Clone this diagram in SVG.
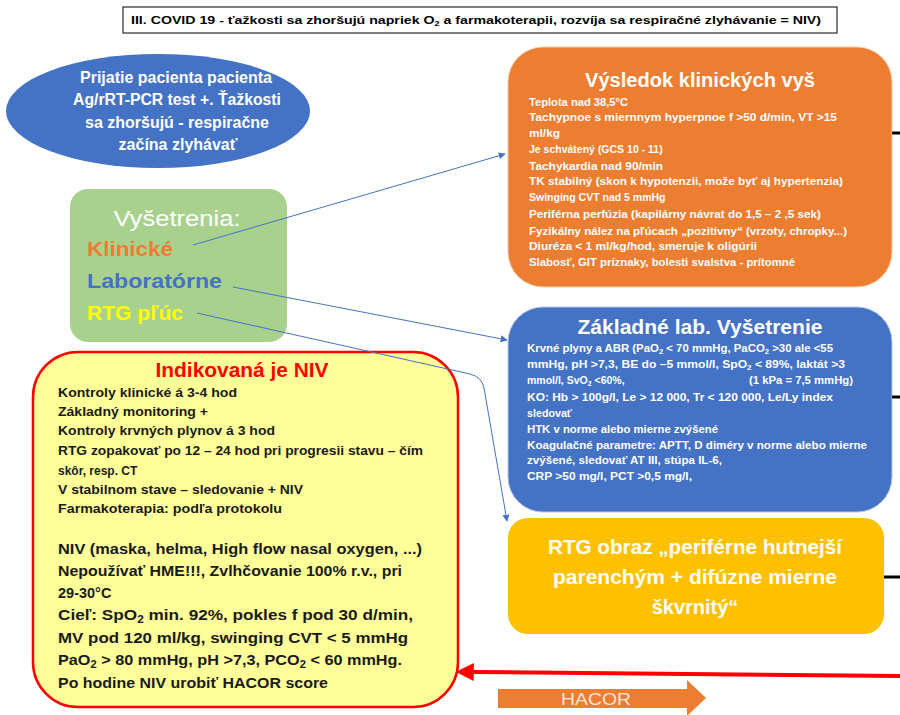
<svg xmlns="http://www.w3.org/2000/svg" width="900" height="715" viewBox="0 0 900 715">
<defs>
<style>
text{font-family:"Liberation Sans",Arial,sans-serif;font-weight:bold}
.w{fill:#ffffff}
.sm{font-size:10.5px}
.bl{font-size:12px;fill:#1a1a1a}
.bb{font-size:14.5px;fill:#1a1a1a}
.h{font-size:20px;fill:#ffffff}
.conn{stroke:#4472c4;stroke-width:1;fill:none}
.stub{stroke:#000000;stroke-width:3}
</style>
<marker id="ab" viewBox="0 0 10 10" refX="9" refY="5" markerWidth="7" markerHeight="7" markerUnits="userSpaceOnUse" orient="auto">
<path d="M0,0 L10,5 L0,10 z" fill="#4472c4"/>
</marker>
<marker id="ar" viewBox="0 0 10 10" refX="1" refY="5" markerWidth="18" markerHeight="18" markerUnits="userSpaceOnUse" orient="auto-start-reverse">
<path d="M0,0 L10,5 L0,10 z" fill="#ff0000"/>
</marker>
</defs>
<rect width="900" height="715" fill="#ffffff"/>

<g id="title">
<rect x="123" y="7" width="714" height="26" fill="#ffffff" stroke="#000000" stroke-width="1"/>
<text x="131" y="24" font-size="11" fill="#000" textLength="690" lengthAdjust="spacingAndGlyphs">III. COVID 19  - ťažkosti sa zhoršujú napriek O<tspan font-size="7" dy="2">2</tspan><tspan dy="-2"> a farmakoterapii, rozvíja sa respiračné zlyhávanie = NIV)</tspan></text>
</g>

<g id="admission">
<ellipse cx="158" cy="111" rx="152" ry="57" fill="#4472c4"/>
<text class="w" font-size="16" text-anchor="middle" x="176" y="83" textLength="192" lengthAdjust="spacingAndGlyphs">Prijatie pacienta pacienta</text>
<text class="w" font-size="16" text-anchor="middle" x="177" y="105" textLength="208" lengthAdjust="spacingAndGlyphs">Ag/rRT-PCR test +. Ťažkosti</text>
<text class="w" font-size="16" text-anchor="middle" x="177" y="128" textLength="184" lengthAdjust="spacingAndGlyphs">sa zhoršujú - respiračne</text>
<text class="w" font-size="16" text-anchor="middle" x="178" y="150">začína zlyhávať</text>
</g>

<g id="exams">
<rect x="70" y="189" width="217" height="153" rx="18" fill="#a9d18e"/>
<text x="177" y="226" text-anchor="middle" font-size="22" fill="#ffffff" style="font-weight:normal" textLength="127" lengthAdjust="spacingAndGlyphs">Vyšetrenia:</text>
<text x="87" y="256" font-size="20" fill="#ed7d31" textLength="86" lengthAdjust="spacingAndGlyphs">Klinické</text>
<text x="87" y="288" font-size="20" fill="#4472c4" textLength="135" lengthAdjust="spacingAndGlyphs">Laboratórne</text>
<text x="87" y="320" font-size="20" fill="#ffff00" textLength="96" lengthAdjust="spacingAndGlyphs">RTG pľúc</text>
</g>

<g id="clinical">
<rect x="508" y="47" width="384" height="240" rx="35" fill="#ed7d31" stroke="#f8cbad" stroke-width="1"/>
<text class="h" x="700" y="87" text-anchor="middle" textLength="230" lengthAdjust="spacingAndGlyphs">Výsledok klinických vyš</text>
<g class="w sm">
<text x="529" y="106" textLength="99" lengthAdjust="spacingAndGlyphs">Teplota nad 38,5°C</text>
<text x="529" y="121" textLength="308" lengthAdjust="spacingAndGlyphs">Tachypnoe   s miernnym  hyperpnoe f &gt;50 d/min, VT &gt;15</text>
<text x="529" y="137" textLength="31" lengthAdjust="spacingAndGlyphs">ml/kg</text>
<text x="529" y="153">Je schvátený (GCS 10 - 11)</text>
<text x="529" y="170" textLength="134" lengthAdjust="spacingAndGlyphs">Tachykardia  nad 90/min</text>
<text x="529" y="185" textLength="314" lengthAdjust="spacingAndGlyphs">TK stabilný  (skon k  hypotenzii, može byť aj hypertenzia)</text>
<text x="529" y="201">Swinging CVT nad 5 mmHg</text>
<text x="529" y="218" textLength="292" lengthAdjust="spacingAndGlyphs">Periférna perfúzia (kapilárny  návrat do 1,5 – 2 ,5 sek)</text>
<text x="529" y="235" textLength="318" lengthAdjust="spacingAndGlyphs">Fyzikálny  nález na pľúcach „pozitívny“ (vrzoty, chropky...)</text>
<text x="529" y="250" textLength="228" lengthAdjust="spacingAndGlyphs">Diuréza &lt; 1 ml/kg/hod, smeruje k oligúrii</text>
<text x="529" y="266" textLength="266" lengthAdjust="spacingAndGlyphs">Slabosť, GIT príznaky, bolesti svalstva - prítomné</text>
</g>
</g>

<g id="lab">
<rect x="508" y="307" width="384" height="205" rx="35" fill="#4472c4" stroke="#b4c7e7" stroke-width="1"/>
<text class="h" x="700" y="334" text-anchor="middle" textLength="245" lengthAdjust="spacingAndGlyphs">Základné lab. Vyšetrenie</text>
<g class="w sm">
<text x="527" y="352" textLength="306" lengthAdjust="spacingAndGlyphs">Krvné plyny a ABR (PaO<tspan font-size="7" dy="2">2</tspan><tspan dy="-2"> &lt; 70 mmHg, PaCO</tspan><tspan font-size="7" dy="2">2</tspan><tspan dy="-2"> &gt;30 ale &lt;55</tspan></text>
<text x="527" y="368" textLength="318" lengthAdjust="spacingAndGlyphs">mmHg, pH &gt;7,3,  BE  do –5 mmol/l,  SpO<tspan font-size="7" dy="2">2</tspan><tspan dy="-2"> &lt; 89%, laktát &gt;3</tspan></text>
<text x="527" y="384">mmol/l, SvO<tspan font-size="7" dy="2">2</tspan><tspan dy="-2"> &lt;60%,</tspan></text>
<text x="749" y="384" textLength="104" lengthAdjust="spacingAndGlyphs">(1 kPa = 7,5 mmHg)</text>
<text x="527" y="401" textLength="306" lengthAdjust="spacingAndGlyphs">KO: Hb &gt; 100g/l,  Le &gt; 12 000, Tr &lt; 120 000,  Le/Ly index</text>
<text x="527" y="417" textLength="45" lengthAdjust="spacingAndGlyphs">sledovať</text>
<text x="527" y="433" textLength="191" lengthAdjust="spacingAndGlyphs">HTK v norme alebo  mierne zvýšené</text>
<text x="527" y="449" textLength="340" lengthAdjust="spacingAndGlyphs">Koagulačné  parametre: APTT,   D diméry v norme alebo  mierne</text>
<text x="527" y="464" textLength="195" lengthAdjust="spacingAndGlyphs">zvýšené, sledovať  AT III,  stúpa IL-6,</text>
<text x="527" y="480" textLength="165" lengthAdjust="spacingAndGlyphs">CRP &gt;50 mg/l,  PCT &gt;0,5  mg/l,</text>
</g>
</g>

<g id="rtg">
<rect x="508" y="518" width="376" height="116" rx="20" fill="#ffc000"/>
<text class="h" x="695" y="554" text-anchor="middle" textLength="294" lengthAdjust="spacingAndGlyphs">RTG obraz „periférne hutnejší</text>
<text class="h" x="695" y="584" text-anchor="middle" textLength="284" lengthAdjust="spacingAndGlyphs">parenchým + difúzne mierne</text>
<text class="h" x="695" y="614" text-anchor="middle">škvrnitý“</text>
</g>

<g id="niv">
<rect x="33" y="352" width="425" height="355" rx="45" fill="#ffff99" stroke="#ff0000" stroke-width="2.5"/>
<text x="242" y="377" text-anchor="middle" font-size="20" fill="#ff0000" textLength="173" lengthAdjust="spacingAndGlyphs">Indikovaná je NIV</text>
<text class="bl" x="58" y="397" textLength="179" lengthAdjust="spacingAndGlyphs">Kontroly klinické á 3-4 hod</text>
<text class="bl" x="58" y="416" textLength="150" lengthAdjust="spacingAndGlyphs">Základný monitoring +</text>
<text class="bl" x="58" y="435" textLength="217" lengthAdjust="spacingAndGlyphs">Kontroly krvných plynov á 3 hod</text>
<text class="bl" x="58" y="455" textLength="365" lengthAdjust="spacingAndGlyphs">RTG zopakovať po 12 – 24 hod pri progresii stavu – čím</text>
<text class="bl" x="58" y="475">skôr, resp. CT</text>
<text class="bl" x="58" y="494" textLength="245" lengthAdjust="spacingAndGlyphs">V stabilnom stave – sledovanie + NIV</text>
<text class="bl" x="58" y="513" textLength="224" lengthAdjust="spacingAndGlyphs">Farmakoterapia: podľa protokolu</text>
<text class="bb" x="58" y="554" textLength="364" lengthAdjust="spacingAndGlyphs">NIV (maska, helma, High flow nasal oxygen, ...)</text>
<text class="bb" x="58" y="576" textLength="344" lengthAdjust="spacingAndGlyphs">Nepoužívať HME!!!, Zvlhčovanie 100% r.v., pri</text>
<text class="bb" x="58" y="598">29-30°C</text>
<text class="bb" x="58" y="620" textLength="355" lengthAdjust="spacingAndGlyphs">Cieľ: SpO<tspan font-size="10" dy="3">2</tspan><tspan dy="-3"> min. 92%, pokles f pod 30 d/min,</tspan></text>
<text class="bb" x="58" y="643" textLength="350" lengthAdjust="spacingAndGlyphs">MV pod   120 ml/kg, swinging CVT &lt; 5 mmHg</text>
<text class="bb" x="58" y="665" textLength="344" lengthAdjust="spacingAndGlyphs">PaO<tspan font-size="10" dy="3">2</tspan><tspan dy="-3"> &gt; 80 mmHg, pH &gt;7,3, PCO</tspan><tspan font-size="10" dy="3">2</tspan><tspan dy="-3"> &lt; 60 mmHg.</tspan></text>
<text class="bb" x="58" y="688" textLength="270" lengthAdjust="spacingAndGlyphs">Po hodine NIV urobiť HACOR score</text>
</g>

<g id="hacor">
<path d="M498,689 L687,689 L687,680 L706,698 L687,716 L687,708 L498,708 z" fill="#ed7d31"/>
<text x="596" y="705" text-anchor="middle" font-size="17" style="font-weight:normal" fill="#fbe5d6" textLength="70" lengthAdjust="spacingAndGlyphs">HACOR</text>
</g>

<g id="connectors">
<line class="conn" x1="193" y1="245" x2="505" y2="154" marker-end="url(#ab)"/>
<line class="conn" x1="233" y1="287" x2="507" y2="340" marker-end="url(#ab)"/>
<path class="conn" d="M197,313 L470,374 Q482,377 484,388 L507,521" marker-end="url(#ab)"/>
<line x1="900" y1="676" x2="472" y2="672" stroke="#ff0000" stroke-width="4" marker-end="url(#ar)"/>
<line class="stub" x1="892" y1="133" x2="900" y2="133"/>
<line class="stub" x1="892" y1="397" x2="900" y2="397"/>
<line class="stub" x1="884" y1="577" x2="900" y2="577"/>
</g>
</svg>
